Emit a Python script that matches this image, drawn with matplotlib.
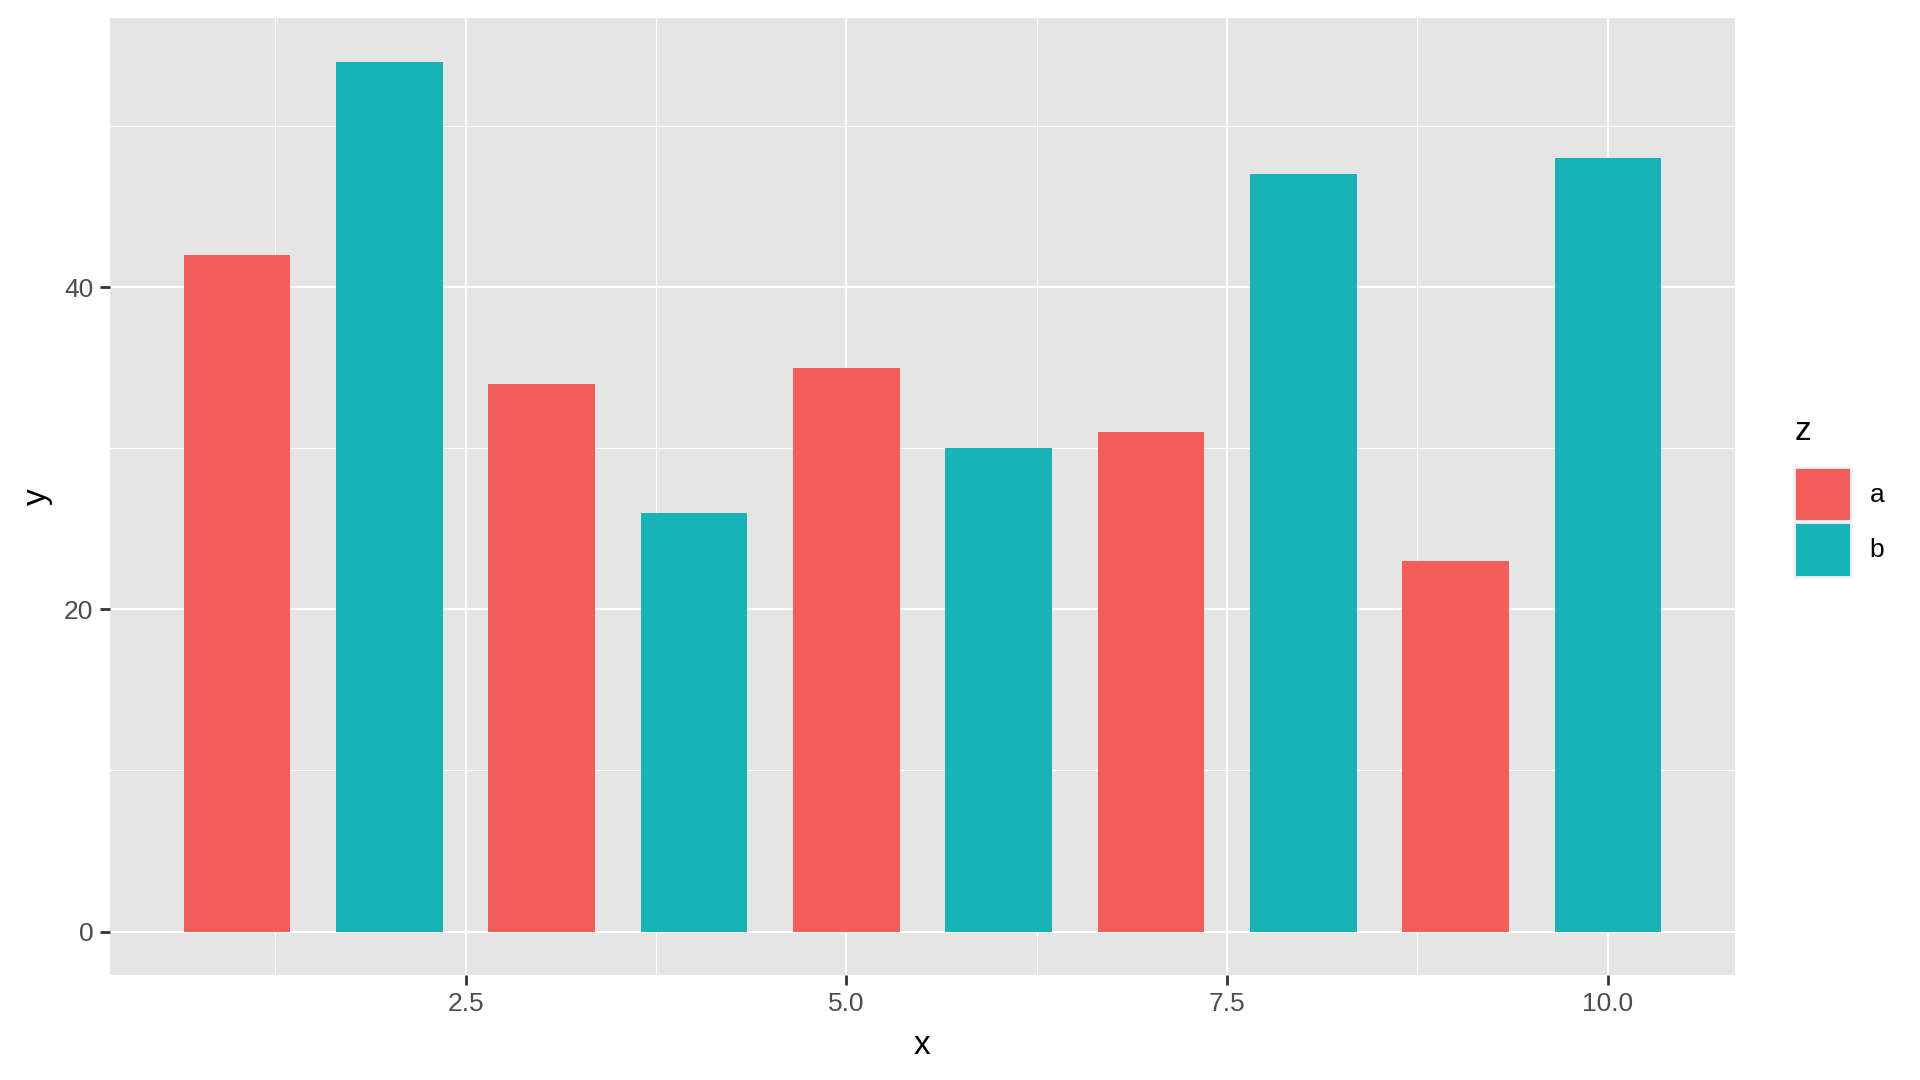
import matplotlib
matplotlib.use('Agg')
import matplotlib.pyplot as plt
from matplotlib.patches import Patch
from matplotlib.ticker import MultipleLocator

# data
x_vals = [1, 2, 3, 4, 5, 6, 7, 8, 9, 10]
y_vals = [42, 54, 34, 26, 35, 30, 31, 47, 23, 48]
z_vals = ['a', 'b', 'a', 'b', 'a', 'b', 'a', 'b', 'a', 'b']
groups = ['a', 'b']
x_ticks = [2.5, 5.0, 7.5, 10.0]
y_ticks = [0, 20, 40]

colours = {'a': '#F35E5A', 'b': '#17B3B7'}

plt.rcParams['font.family'] = ['Liberation Sans', 'DejaVu Sans']

fig = plt.figure(figsize=(19.2, 10.8), dpi=100)
ax = fig.add_axes([110 / 1920, 1 - 975 / 1080, (1735 - 110) / 1920, (975 - 18) / 1080])
ax.set_facecolor('#E5E5E5')

ax.bar(x_vals, y_vals, width=0.7, color=[colours[z] for z in z_vals], zorder=3)

# ggplot-style expansion
xmin, xmax = min(x_vals) - 0.35, max(x_vals) + 0.35
pad = (xmax - xmin) * 0.05
ax.set_xlim(xmin - pad, xmax + pad)
ymax = max(y_vals)
ax.set_ylim(-ymax * 0.05, ymax * 1.05)

ax.set_xticks(x_ticks)
ax.set_xticklabels([f'{t:.1f}' for t in x_ticks])
ax.set_yticks(y_ticks)
ax.set_yticklabels([str(t) for t in y_ticks])
ax.xaxis.set_minor_locator(MultipleLocator(1.25))
ax.yaxis.set_minor_locator(MultipleLocator(10))

ax.grid(which='major', color='white', linewidth=1.5, zorder=1)
ax.grid(which='minor', color='white', linewidth=0.75, zorder=1)
ax.set_axisbelow(True)
for s in ax.spines.values():
    s.set_visible(False)

ax.tick_params(which='major', length=7, width=2, color='#333333',
               labelsize=19, labelcolor='#4D4D4D', pad=5)
ax.tick_params(which='minor', length=0)

ax.set_xlabel('x', fontsize=24, labelpad=10)
ax.set_ylabel('y', fontsize=24, labelpad=8)

handles = [Patch(facecolor=colours[g], edgecolor='#F2F2F2', linewidth=2, label=g) for g in groups]
leg = ax.legend(handles=handles, title='z', loc='center left', bbox_to_anchor=(1.03, 0.5),
                frameon=False, fontsize=19, title_fontsize=24,
                handlelength=2.15, handleheight=2.8, handletextpad=0.7,
                labelspacing=0.05, borderaxespad=0)
leg._legend_box.align = 'left'
leg._legend_box.sep = 14

fig.savefig('out.png', dpi=100)
